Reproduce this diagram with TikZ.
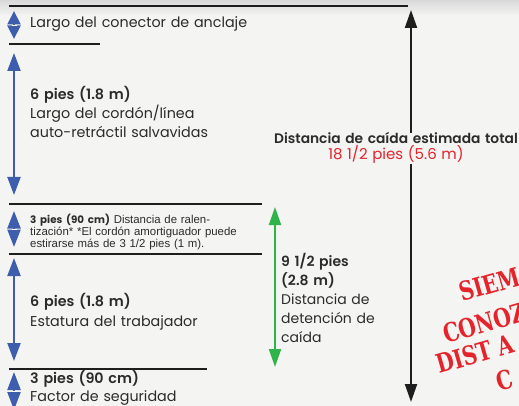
\documentclass[tikz,border=0pt]{standalone}
\usepackage{fontspec}
\IfFontExistsTF{Poppins SemiBold}
  {\setmainfont{Poppins}[BoldFont={Poppins SemiBold}]}
  {\setmainfont{Poppins}}
\newfontfamily\narrowfont{Liberation Sans}
\newfontfamily\stampfont[FakeStretch=0.78]{DejaVu Serif}
\usepackage{xcolor}
\usepackage{tikz}
\usetikzlibrary{positioning, arrows.meta, calc}
\definecolor{paper}{HTML}{F4F4F3}
\definecolor{paperdark}{HTML}{D9D9D9}
\definecolor{levelink}{HTML}{1E1E1E}
\definecolor{dimblue}{HTML}{3E5DAD}
\definecolor{arrestgreen}{HTML}{2FB34A}
\definecolor{stampred}{HTML}{E5232B}
\definecolor{textgray}{HTML}{2B2B2B}

\tikzset{
  levelline/.style={draw=levelink, line width=2.4pt},
  bluedim/.style={draw=dimblue, line width=2.2pt,
    {Triangle[length=18pt,width=13pt]}-{Triangle[length=18pt,width=13pt]}},
  smalldim/.style={draw=dimblue, line width=2.2pt,
    {Triangle[length=#1,width=13pt]}-{Triangle[length=#1,width=13pt]}},
  desc/.style={anchor=base west, inner sep=0pt, text width=#1, align=left,
    text=textgray, font=\fontsize{14.3}{19}\selectfont},
  stampline/.style={anchor=base west, inner sep=0pt, rotate=16, text=stampred,
    font=\stampfont\bfseries\fontsize{26}{26}\selectfont},
}

\begin{document}
\begin{tikzpicture}[x=1pt, y=-1pt]
  \fill[paper] (0,0) rectangle (519,406);
  \shade[top color=paperdark, bottom color=paper] (0,0) rectangle (519,16);
  \clip (0,0) rectangle (519,406);

  \coordinate (l0w) at (9,6);    \coordinate (l0e) at (408,6);
  \coordinate (l1w) at (9,44);   \coordinate (l1e) at (100,44);
  \coordinate (l2w) at (9,204);  \coordinate (l2e) at (262,204);
  \coordinate (l3w) at (9,254);  \coordinate (l3e) at (262,254);
  \coordinate (l4w) at (9,369);  \coordinate (l4e) at (207,369);
  \foreach \lv in {0,...,4}
    \draw[levelline] (l\lv w) -- (l\lv e);

  \coordinate (anchtop) at (14,11);   \coordinate (anchbot) at (14,39);
  \coordinate (cordtop) at (14,53);   \coordinate (cordbot) at (14,195);
  \coordinate (slowtop) at (14,211);  \coordinate (slowbot) at (14,247);
  \coordinate (bodytop) at (14,258);  \coordinate (bodybot) at (14,361);
  \coordinate (safetop) at (14,372);  \coordinate (safebot) at (14,410);
  \coordinate (stoptop) at (275,207); \coordinate (stopbot) at (275,367);
  \coordinate (falltop) at (411,10);  \coordinate (fallbot) at (411,402);

  \draw[smalldim=13.5pt] (anchtop) -- (anchbot);
  \draw[bluedim] (cordtop) -- (cordbot);
  \draw[smalldim=17.5pt] (slowtop) -- (slowbot);
  \draw[bluedim] (bodytop) -- (bodybot);
  \draw[smalldim=18pt] (safetop) -- (safebot);
  \foreach \dm in {anch,slow,safe}
    \draw[white, line width=0.6pt] ($(\dm top)!0.5!(\dm bot)+(-2.5,0)$) -- ++(5,0);
  \draw[arrestgreen, line width=2pt,
    {Triangle[length=18pt,width=12pt]}-{Triangle[length=18pt,width=12pt]}]
    (stoptop) -- (stopbot);
  \draw[levelink, line width=2pt,
    {Triangle[length=18pt,width=12pt]}-{Triangle[length=18pt,width=12pt]}]
    (falltop) -- (fallbot);

  \node[desc=230pt] (anchtext) at (30,28) {Largo del conector de anclaje};
  \node[desc=230pt] (cordtext) at (30,100) {\textbf{6 pies (1.8 m)}\\
    Largo del cordón/línea\\auto-retráctil salvavidas};
  \node[desc=240pt, font=\narrowfont\fontsize{11.4}{12}\selectfont] (slowtext) at (30,223)
    {{\fontspec{Poppins}\bfseries\fontsize{10.3}{12}\selectfont 3 pies (90 cm)} Distancia de ralen-\\
    tización* *El cordón amortiguador puede\\estirarse más de 3 1/2 pies (1 m).};
  \node[desc=230pt, font=\fontsize{14.3}{20}\selectfont] (bodytext) at (30,306)
    {\textbf{6 pies (1.8 m)}\\Estatura del trabajador};
  \node[desc=230pt, font=\fontsize{14.3}{18}\selectfont] (safetext) at (30,383)
    {\textbf{3 pies (90 cm)}\\Factor de seguridad};
  \node[desc=120pt, font=\fontsize{14}{19}\selectfont] (stoptext) at (281,266)
    {\textbf{9 1/2 pies}\\\textbf{(2.8 m)}\\Distancia de\\detención de\\caída};
  \node[anchor=base, inner sep=0pt, text width=250pt, align=center, fill=paper,
    text=textgray, font=\fontsize{13.8}{16}\selectfont] (falltext) at (396,144)
    {\textbf{Distancia de caída estimada total}\\
    {\color{stampred}\fontsize{15}{16}\selectfont 18 1/2 pies (5.6 m)}};

  \node[stampline] (stampa) at (462,302) {SIEM};
  \node[stampline] (stampb) at (446,344) {CONOZ};
  \node[stampline] (stampc) at (439,374) {DIST A};
  \node[stampline] (stampd) at (499,392) {C};
\end{tikzpicture}
\end{document}
